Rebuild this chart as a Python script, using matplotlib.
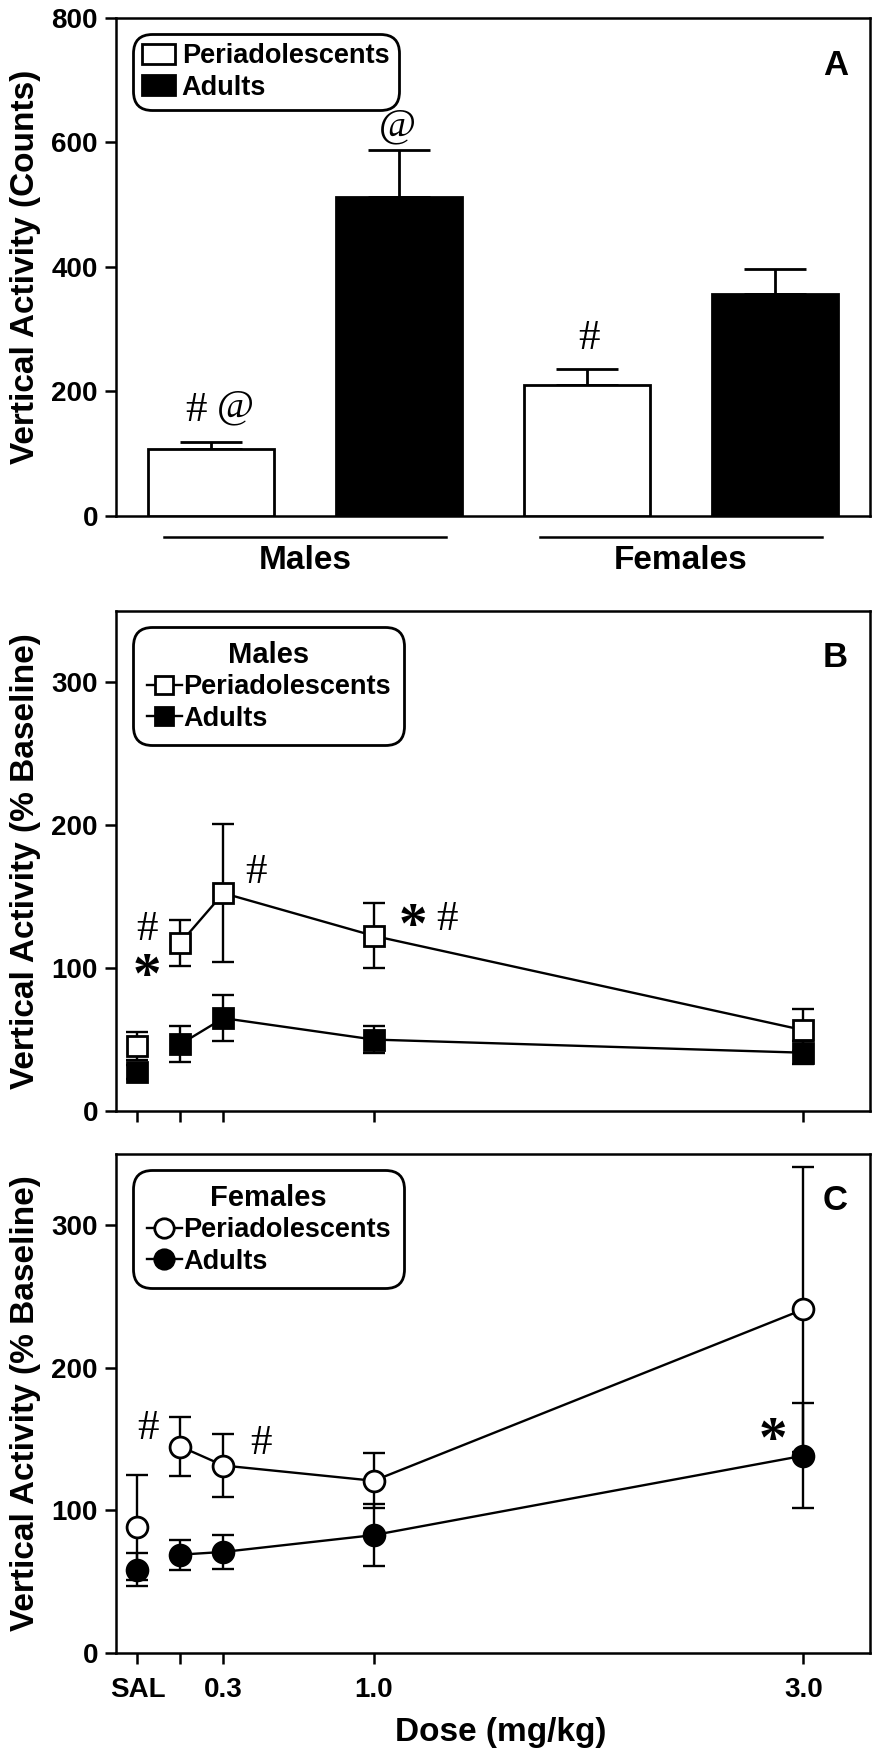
import matplotlib
matplotlib.use("Agg")
import matplotlib.pyplot as plt
import matplotlib.transforms as mtransforms
from matplotlib.lines import Line2D
from matplotlib.patches import Patch

plt.rcParams['font.family'] = ['Liberation Sans', 'DejaVu Sans']
plt.rcParams['font.weight'] = 'bold'
plt.rcParams['axes.labelweight'] = 'bold'
plt.rcParams['axes.linewidth'] = 1.8

# Panel A: total vertical activity (counts)
groups = ['Males', 'Females']
ages = ['Periadolescents', 'Adults']
counts_mean = [107, 513, 210, 356]
counts_sem = [12, 75, 26, 40]
counts_marks = [('#', -0.08, 169), ('@', 0.13, 175), ('@', 0.99, 627), ('#', 2.01, 284)]

# Panels B and C: % baseline vs dose (SAL drawn at -0.1)
doses = [-0.1, 0.1, 0.3, 1.0, 3.0]
dose_labels = ['SAL', '', '0.3', '1.0', '3.0']

male_peri = [45.5, 117.7, 152.5, 122.6, 56.6]
male_peri_sem = [10, 16, 48.5, 22.7, 14.8]
male_adult = [27.3, 46.8, 65, 50, 40.8]
male_adult_sem = [5, 12.7, 16, 9.7, 8]
male_marks = [('#', -0.056, 126.6), ('*', -0.056, 102), ('#', 0.45, 166.7),
              ('*', 1.18, 137), ('#', 1.34, 134)]

fem_peri = [88.2, 144.8, 131.5, 120.8, 241]
fem_peri_sem = [37, 21, 22, 19.3, 100]
fem_adult = [58.4, 69, 70.9, 82.7, 138.4]
fem_adult_sem = [11.6, 10.6, 11.7, 22, 36.7]
fem_marks = [('#', -0.051, 157), ('#', 0.473, 146.5), ('*', 2.856, 157)]

W, H = 873, 1754
fig = plt.figure(figsize=(W / 100, H / 100), dpi=100)


def box(left, top, right, bottom):
    return [left / W, 1 - bottom / H, (right - left) / W, (bottom - top) / H]


axA = fig.add_axes(box(116, 18, 870, 516))
axB = fig.add_axes(box(116, 611, 870, 1111))
axC = fig.add_axes(box(116, 1154, 870, 1653))


def style_frame(leg):
    fr = leg.get_frame()
    fr.set_edgecolor('black')
    fr.set_linewidth(2)
    fr.set_alpha(1)
    fr.set_boxstyle('round', pad=0.0, rounding_size=0.7)


def mark(ax, marks):
    for s, x, y in marks:
        if s == '*':
            # asterisk glyph sits high in its box, pull it down
            ax.annotate(s, (x, y), xytext=(0, -9), textcoords='offset points',
                        fontsize=41, family='Liberation Serif', weight='bold',
                        ha='center', va='center')
        else:
            ax.text(x, y, s, fontsize=31 if s == '#' else 29, family='Liberation Serif',
                    weight='normal', ha='center', va='center')


# ---- A ----
xpos = [0, 1, 2, 3]
colors = ['white', 'black', 'white', 'black']
axA.bar(xpos, counts_mean, width=0.67, color=colors, edgecolor='black', linewidth=2, zorder=3)
axA.errorbar(xpos, counts_mean, yerr=[[0] * 4, counts_sem], fmt='none', ecolor='black',
             elinewidth=2, capsize=22, capthick=2, zorder=2)
axA.set_xlim(-0.505, 3.505)
axA.set_ylim(0, 800)
axA.set_yticks([0, 200, 400, 600, 800])
axA.set_xticks([])
mark(axA, counts_marks)
trans = mtransforms.blended_transform_factory(axA.transData, axA.transAxes)
for i, g in enumerate(groups):
    c = 2 * i + 0.5
    axA.plot([c - 0.75, c + 0.75], [-0.043, -0.043], color='black', lw=1.8,
             transform=trans, clip_on=False)
    axA.text(c, -0.058, g, transform=trans, ha='center', va='top', fontsize=24)
axA.set_ylabel('Vertical Activity (Counts)', fontsize=24)
hA = [Patch(facecolor='white', edgecolor='black', lw=2),
      Patch(facecolor='black', edgecolor='black', lw=2)]
leg = axA.legend(hA, ages, loc='upper left', bbox_to_anchor=(0.0225, 0.968),
                 borderaxespad=0, fontsize=19.5, fancybox=True, handlelength=1.2,
                 handleheight=0.75, handletextpad=0.25, labelspacing=0.2, borderpad=0.35)
style_frame(leg)
axA.text(0.954, 0.904, 'A', transform=axA.transAxes, fontsize=25, ha='center', va='center')


# ---- B / C ----
def series(ax, y, e, marker, fill, ms, z):
    ax.errorbar(doses, y, yerr=e, fmt='none', ecolor='black', elinewidth=1.7,
                capsize=8, capthick=1.7, zorder=z)
    ax.plot(doses[1:], y[1:], color='black', lw=1.7, zorder=z)
    ax.plot(doses, y, ls='none', marker=marker, ms=ms, mfc=fill, mec='black',
            mew=2, zorder=z + 1)


def dose_panel(ax, peri, peri_e, adult, adult_e, marker, ms, title, letter, marks):
    series(ax, peri, peri_e, marker, 'white', ms, 3)
    series(ax, adult, adult_e, marker, 'black', ms, 5)
    ax.set_xlim(-0.2, 3.31)
    ax.set_ylim(0, 350)
    ax.set_yticks([0, 100, 200, 300])
    ax.set_xticks(doses)
    ax.set_ylabel('Vertical Activity (% Baseline)', fontsize=24)
    mark(ax, marks)
    h = [Line2D([], [], color='black', lw=1.7, marker=marker, ms=ms - 1, mfc=f,
                mec='black', mew=2) for f in ('white', 'black')]
    lg = ax.legend(h, ages, title=title, loc='upper left', bbox_to_anchor=(0.0225, 0.967),
                   borderaxespad=0, fontsize=19.5,
                   title_fontproperties={'size': 21, 'weight': 'bold'},
                   fancybox=True, handlelength=1.3, handletextpad=0.05, labelspacing=0.2,
                   borderpad=0.5)
    style_frame(lg)
    ax.text(0.954, 0.907, letter, transform=ax.transAxes, fontsize=25, ha='center', va='center')


dose_panel(axB, male_peri, male_peri_sem, male_adult, male_adult_sem, 's', 14,
           'Males', 'B', male_marks)
axB.set_xticklabels([])
dose_panel(axC, fem_peri, fem_peri_sem, fem_adult, fem_adult_sem, 'o', 15,
           'Females', 'C', fem_marks)
axC.set_xticklabels(dose_labels)
axC.set_xlabel('Dose (mg/kg)', fontsize=24)
axC.xaxis.set_label_coords(0.51, -0.128)

for ax in (axA, axB, axC):
    ax.tick_params(direction='out', length=8, width=1.8, labelsize=20, pad=5)
    ax.tick_params(axis='x', pad=9)
    ax.yaxis.set_label_coords(-0.099, 0.5)

fig.savefig('out.png', dpi=100)
